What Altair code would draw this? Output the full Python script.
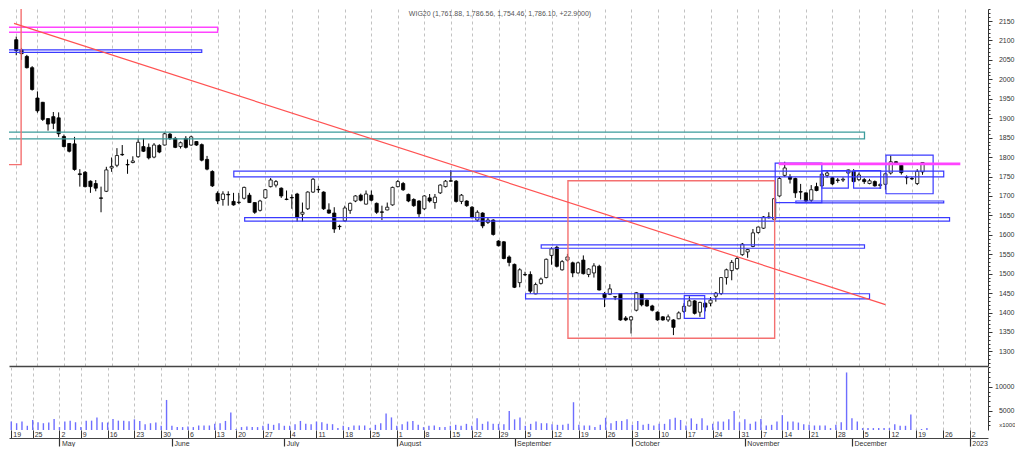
import altair as alt
import pandas as pd

# ---------------- data (trading-day index 0 = 19 Apr 2022 ... 171 = 21 Dec 2022) -------------
open_p = [2102, 2076, 2059, 2030, 1952, 1941, 1899, 1904, 1901, 1853,
          1835, 1834, 1757, 1761, 1738, 1732, 1695, 1712, 1772, 1779,
          1807, 1781, 1786, 1801, 1827, 1825, 1800, 1830, 1831, 1859,
          1848, 1827, 1848, 1831, 1840, 1832, 1794, 1763, 1707, 1691,
          1704, 1686, 1683, 1694, 1702, 1683, 1663, 1695, 1724, 1728,
          1720, 1692, 1696, 1705, 1653, 1667, 1710, 1717, 1710, 1664,
          1656, 1622, 1636, 1663, 1687, 1702, 1679, 1702, 1681, 1659,
          1664, 1677, 1724, 1732, 1704, 1691, 1687, 1667, 1695, 1683,
          1708, 1724, 1739, 1738, 1686, 1687, 1671, 1638, 1656, 1632,
          1638, 1584, 1582, 1543, 1524, 1477, 1498, 1498, 1448, 1475,
          1490, 1547, 1568, 1510, 1535, 1528, 1502, 1535, 1498, 1502,
          1519, 1449, 1447, 1440, 1449, 1386, 1381, 1406, 1449, 1432,
          1417, 1401, 1389, 1381, 1381, 1384, 1403, 1417, 1430, 1401,
          1424, 1424, 1442, 1449, 1490, 1508, 1513, 1549, 1556, 1570,
          1606, 1617, 1644, 1640, 1700, 1753, 1749, 1745, 1711, 1708,
          1689, 1724, 1726, 1753, 1747, 1741, 1741, 1759, 1764, 1742,
          1742, 1732, 1737, 1727, 1730, 1759, 1788, 1779, 1748, 1745,
          1732, 1761.88]
high_p = [2110, 2081, 2063, 2034, 1969, 1942, 1900, 1916, 1915, 1858,
          1836, 1852, 1769, 1764, 1740, 1741, 1724, 1775, 1799, 1823,
          1831, 1794, 1802, 1848, 1848, 1835, 1836, 1833, 1863, 1862,
          1852, 1840, 1854, 1855, 1841, 1835, 1803, 1766, 1712, 1712,
          1712, 1708, 1708, 1724, 1708, 1684, 1690, 1718, 1746, 1741,
          1722, 1714, 1704, 1708, 1683, 1712, 1746, 1726, 1712, 1681,
          1671, 1626, 1675, 1683, 1702, 1706, 1714, 1714, 1683, 1675,
          1683, 1724, 1741, 1736, 1706, 1694, 1689, 1702, 1705, 1705,
          1730, 1741, 1766, 1741, 1705, 1689, 1674, 1663, 1658, 1645,
          1640, 1586, 1584, 1547, 1526, 1514, 1505, 1506, 1477, 1490,
          1539, 1568, 1572, 1535, 1551, 1531, 1531, 1547, 1514, 1527,
          1523, 1453, 1473, 1442, 1450, 1391, 1391, 1453, 1450, 1434,
          1420, 1403, 1391, 1395, 1383, 1403, 1424, 1442, 1432, 1428,
          1426, 1440, 1453, 1491, 1513, 1535, 1543, 1579, 1564, 1615,
          1621, 1648, 1658, 1695, 1749, 1788, 1756, 1747, 1731, 1709,
          1728, 1734, 1759, 1764, 1749, 1746, 1748, 1768, 1769, 1760,
          1746, 1744, 1740, 1733, 1760, 1804, 1790, 1782, 1753, 1749,
          1769, 1786.56]
low_p = [2062, 2050, 2028, 1971, 1914, 1893, 1868, 1872, 1852, 1825,
         1812, 1765, 1724, 1722, 1708, 1712, 1658, 1710, 1762, 1774,
         1803, 1757, 1784, 1798, 1813, 1794, 1797, 1810, 1830, 1844,
         1823, 1822, 1822, 1829, 1829, 1789, 1766, 1723, 1679, 1675,
         1675, 1675, 1679, 1691, 1682, 1654, 1660, 1693, 1722, 1722,
         1695, 1689, 1667, 1634, 1634, 1664, 1708, 1708, 1664, 1654,
         1605, 1613, 1634, 1654, 1684, 1686, 1678, 1686, 1654, 1638,
         1663, 1675, 1722, 1713, 1684, 1672, 1646, 1664, 1683, 1667,
         1705, 1722, 1737, 1683, 1679, 1672, 1642, 1634, 1617, 1628,
         1598, 1570, 1537, 1519, 1463, 1465, 1494, 1449, 1447, 1472,
         1488, 1523, 1516, 1508, 1531, 1491, 1500, 1498, 1491, 1490,
         1457, 1414, 1445, 1432, 1379, 1378, 1346, 1403, 1416, 1415,
         1403, 1379, 1379, 1376, 1342, 1383, 1399, 1416, 1395, 1389,
         1403, 1416, 1428, 1445, 1472, 1483, 1510, 1546, 1541, 1568,
         1603, 1615, 1642, 1638, 1698, 1749, 1732, 1695, 1691, 1685,
         1685, 1712, 1724, 1747, 1728, 1734, 1736, 1756, 1734, 1738,
         1731, 1730, 1724, 1718, 1716, 1755, 1781, 1755, 1730, 1741,
         1728, 1754.46]
close_p = [2074, 2066, 2030, 1974, 1919, 1897, 1885, 1887, 1860, 1827,
           1815, 1768, 1755, 1724, 1724, 1720, 1694, 1767, 1776, 1804,
           1806, 1780, 1790, 1838, 1815, 1798, 1831, 1813, 1860, 1848,
           1825, 1837, 1825, 1852, 1831, 1792, 1769, 1726, 1687, 1705,
           1703, 1677, 1684, 1722, 1683, 1658, 1687, 1716, 1741, 1737,
           1700, 1691, 1695, 1646, 1658, 1710, 1743, 1716, 1667, 1656,
           1615, 1621, 1669, 1681, 1700, 1689, 1705, 1689, 1658, 1658,
           1671, 1722, 1737, 1716, 1687, 1675, 1654, 1700, 1687, 1697,
           1728, 1738, 1738, 1686, 1702, 1675, 1646, 1658, 1623, 1638,
           1601, 1572, 1539, 1529, 1465, 1510, 1497, 1455, 1472, 1486,
           1537, 1564, 1519, 1531, 1543, 1502, 1528, 1500, 1512, 1520,
           1458, 1439, 1461, 1441, 1381, 1381, 1389, 1451, 1420, 1417,
           1406, 1381, 1381, 1389, 1362, 1399, 1416, 1430, 1398, 1426,
           1414, 1432, 1450, 1490, 1510, 1529, 1539, 1576, 1562, 1605,
           1620, 1646, 1646, 1693, 1745, 1772, 1743, 1708, 1710, 1687,
           1716, 1714, 1756, 1759, 1731, 1740, 1743, 1767, 1737, 1754,
           1737, 1739, 1726, 1729, 1757, 1788, 1784, 1760, 1747, 1744,
           1763.2, 1786.10]
volume_k = [2800, 2460, 2800, 1930, 3130, 2660, 2460, 2600, 3330, 1660,
            2800, 2990, 2660, 1660, 2990, 2990, 3660, 2660, 2600, 3330,
            2990, 2990, 2860, 3260, 2930, 2260, 2460, 2600, 1930, 7260,
            1930, 1660, 1660, 1800, 1660, 1990, 1990, 1990, 2330, 2460,
            2930, 4660, 1260, 1660, 1800, 1660, 1660, 1930, 2330, 2130,
            2460, 1930, 1930, 2260, 2930, 2330, 2260, 2800, 2660, 2330,
            2260, 1460, 1930, 1660, 1990, 1990, 1990, 1460, 2130, 2460,
            4460, 3660, 1930, 2260, 2800, 2930, 2130, 1660, 1930, 1990,
            1660, 1660, 1930, 2130, 1930, 2330, 1930, 3460, 2330, 2800,
            2330, 2330, 2260, 5000, 3260, 3660, 1930, 2330, 2800, 2460,
            2460, 2260, 2130, 2130, 2330, 6790, 2130, 1990, 1990, 1660,
            2130, 3590, 2460, 2930, 2930, 3260, 2130, 2930, 2130, 2330,
            1990, 2330, 2330, 3260, 3590, 3130, 1990, 3460, 2330, 3460,
            1990, 2330, 2800, 2800, 3260, 5000, 2660, 3260, 2330, 2800,
            3330, 1990, 2130, 2800, 4130, 2800, 2800, 2600, 2260, 2130,
            1990, 1990, 1990, 1460, 2130, 2660, 12930, 3460, 2800, 1460,
            1460, 1460, 1460, 1460, 1460, 2260, 1930, 1930, 4260, 1130,
            1260, 1460]

# week starts (trading-day index) and their Monday day-of-month labels
week_idx = [0, 4, 9, 13, 18, 23, 28, 33, 38, 42, 47, 52, 57, 62, 67, 72, 77, 82, 86,
            91, 96, 101, 106, 111, 116, 121, 126, 131, 136, 140, 144, 149, 154, 159,
            164, 169, 174, 179]
week_lbl = ["19", "25", "2", "9", "16", "23", "30", "6", "13", "20", "27", "4", "11",
            "18", "25", "1", "8", "15", "22", "29", "5", "12", "19", "26", "3", "10",
            "17", "24", "31", "7", "14", "21", "28", "5", "12", "19", "26", "2"]
month_idx = [9, 30, 51, 72, 94, 116, 137, 157, 179]
month_lbl = ["May", "June", "July", "August", "September", "October", "November",
             "December", "2023"]

price_ticks = list(range(1300, 2151, 50))
price_minor = list(range(1270, 2181, 10))
vol_ticks = [5000, 10000]
vol_minor = list(range(2000, 14001, 1000))

# drawn studies (x = trading-day index, y = price)
trend_i = [-0.42, 164.0]
trend_p = [2144.0, 1420.5]
red_x1 = [-3.0, 104.1]
red_x2 = [0.92, 143.1]
red_y1 = [1780.5, 1334.0]
red_y2 = [2250.0, 1739.0]
blue_x1 = [-3.0, 41.05, 43.1, 99.05, 96.1, 126.05, 143.2, 147.1, 152.0, 158.0, 164.1]
blue_x2 = [35.0, 175.0, 176.1, 160.05, 161.0, 129.9, 152.0, 175.0, 157.0, 163.1, 173.0]
blue_y1 = [2069.2, 1748.9, 1635.3, 1565.4, 1435.3, 1385.2, 1683.0, 1682.3, 1720.0, 1720.0, 1705.7]
blue_y2 = [2075.6, 1763.7, 1644.0, 1574.3, 1448.4, 1443.4, 1784.7, 1687.0, 1765.5, 1765.5, 1805.0]
mag_x1 = [-3.0, 144.0]
mag_x2 = [38.0, 178.0]
mag_y1 = [2121.0, 1780.7]
mag_y2 = [2134.1, 1784.2]
teal_x1 = [-3.0]
teal_x2 = [160.05]
teal_y1 = [1846.9]
teal_y2 = [1864.2]

# ---------------- chart ----------------
FONT = "Liberation Sans"
PW, PH, VH = 979, 357, 63
X_DOM = [-0.423, 182.41]
P_DOM = [1262.5, 2181.0]
V_DOM = [1060, 14060]

n = len(close_p)
df = pd.DataFrame({"i": list(range(n)), "open": open_p, "high": high_p,
                   "low": low_p, "close": close_p, "vol": volume_k})
wk = pd.DataFrame({"i": week_idx})

xs = alt.Scale(domain=X_DOM, nice=False, zero=False)
ys = alt.Scale(domain=P_DOM, nice=False, zero=False)
vs = alt.Scale(domain=V_DOM, nice=False, zero=False)

GRID = "#c2c2c2"
AX = "#333333"


def lbl_expr(idx, lbl):
    arr = ",".join("'%s'" % s for s in lbl)
    vals = ",".join(str(v) for v in idx)
    return "[%s][indexof([%s], datum.value)]" % (arr, vals)


price_x_axis = alt.Axis(orient="bottom", values=week_idx, grid=True, gridDash=[3, 3],
                        gridColor=GRID, gridWidth=1, labels=False, ticks=False,
                        domain=True, domainColor="#444444", domainWidth=1.3, title=None)
price_axis = alt.Axis(orient="right", values=price_ticks, format="d", tickSize=4,
                      labelPadding=22, labelAlign="right", labelBaseline="middle",
                      labelFontSize=7, labelColor=AX, domainColor=AX, tickColor=AX,
                      grid=False, title=None, labelFlush=False)
price_minor_axis = alt.Axis(orient="right", values=price_minor, tickSize=2, labels=False,
                            domain=False, grid=False, title=None, tickColor=AX)

# invisible layer that carries the vertical week grid of the price pane
pgrid = alt.Chart(wk).mark_tick(opacity=0).encode(
    x=alt.X("i:Q", scale=xs, axis=price_x_axis),
)
wick = alt.Chart(df).mark_rule(color="black", strokeWidth=1).encode(
    x=alt.X("i:Q", scale=xs, axis=None),
    y=alt.Y("low:Q", scale=ys, axis=price_axis),
    y2="high:Q",
)
body = alt.Chart(df).mark_bar(size=3.2, stroke="black", strokeWidth=0.8).encode(
    x=alt.X("i:Q", scale=xs, axis=None),
    y=alt.Y("open:Q", scale=ys, axis=None),
    y2="close:Q",
    fill=alt.condition("datum.close >= datum.open", alt.value("white"), alt.value("black")),
)


def boxes(x1, x2, y1, y2, color, sw):
    d = pd.DataFrame({"x1": x1, "x2": x2, "y1": y1, "y2": y2})
    return alt.Chart(d).mark_rect(fillOpacity=0, stroke=color, strokeWidth=sw, clip=True).encode(
        x=alt.X("x1:Q", scale=xs, axis=None), x2="x2:Q",
        y=alt.Y("y1:Q", scale=ys, axis=None), y2="y2:Q",
    )


teal = boxes(teal_x1, teal_x2, teal_y1, teal_y2, "#3c9c9c", 1.3)
blue = boxes(blue_x1, blue_x2, blue_y1, blue_y2, "#3a3aff", 1.2)
mag = boxes(mag_x1, mag_x2, mag_y1, mag_y2, "#ff44ff", 1.4)
red = boxes(red_x1, red_x2, red_y1, red_y2, "#f47070", 1.4)

trend = alt.Chart(pd.DataFrame({"i": trend_i, "p": trend_p})).mark_line(
    color="#ff5252", strokeWidth=1.2, clip=True).encode(
    x=alt.X("i:Q", scale=xs, axis=None),
    y=alt.Y("p:Q", scale=ys, axis=price_minor_axis),
)

title_txt = "WIG20 (%s, %s, %s, %s, %+.4f)" % (
    format(open_p[-1], ",.2f"), format(high_p[-1], ",.2f"), format(low_p[-1], ",.2f"),
    format(close_p[-1], ",.2f"), close_p[-1] - close_p[-2])
title = alt.Chart(pd.DataFrame({"t": [title_txt]})).mark_text(
    fontSize=7, font=FONT, color="#555555", align="center", baseline="middle").encode(
    text="t:N", x=alt.value(491), y=alt.value(5))

price = alt.layer(pgrid, wick, body, teal, blue, mag, red, trend, title).resolve_axis(
    x="independent", y="independent").properties(width=PW, height=PH)

# ---------------- volume pane ----------------
day_axis = alt.Axis(orient="bottom", values=week_idx, labelExpr=lbl_expr(week_idx, week_lbl),
                    grid=True, gridDash=[3, 3], gridColor=GRID, domain=False, ticks=True,
                    tickSize=8, tickColor=AX, labelAlign="left", labelOffset=1.5,
                    labelPadding=-4, labelBaseline="middle", labelFontSize=7,
                    labelColor=AX, labelFlush=False, labelOverlap=False, title=None)
month_axis = alt.Axis(orient="bottom", offset=8, values=month_idx,
                      labelExpr=lbl_expr(month_idx, month_lbl), grid=False, domain=True,
                      domainColor="#444444", domainWidth=1.2, ticks=True, tickSize=8,
                      tickColor=AX, tickWidth=1.2, labelAlign="left", labelOffset=2,
                      labelPadding=-3, labelBaseline="middle", labelFontSize=7,
                      labelColor=AX, labelFlush=False, labelOverlap=False, title=None)
vol_axis = alt.Axis(orient="right", values=vol_ticks, format="d", tickSize=4,
                    labelPadding=22, labelAlign="right", labelBaseline="middle",
                    labelFontSize=7, labelColor=AX, domainColor=AX, tickColor=AX,
                    grid=False, labelFlush=False, title="x1000", titleAngle=0,
                    titleFontSize=6, titleFontWeight="normal", titleColor=AX,
                    titleAlign="right", titleBaseline="middle", titleX=27, titleY=57)
vol_minor_axis = alt.Axis(orient="right", values=vol_minor, tickSize=2, labels=False,
                          domain=False, grid=False, title=None, tickColor=AX)

vbars = alt.Chart(df).mark_rule(color="#6e6eff", strokeWidth=1.4).encode(
    x=alt.X("i:Q", scale=xs, axis=day_axis),
    y=alt.Y("vol:Q", scale=vs, axis=vol_axis),
    y2=alt.datum(V_DOM[0]),
)
vminor = alt.Chart(df).mark_point(opacity=0).encode(
    x=alt.X("i:Q", scale=xs, axis=None),
    y=alt.Y("vol:Q", scale=vs, axis=vol_minor_axis),
)
months = alt.Chart(pd.DataFrame({"i": month_idx})).mark_tick(opacity=0).encode(
    x=alt.X("i:Q", scale=xs, axis=month_axis),
)

volume = alt.layer(vbars, vminor, months).resolve_axis(
    x="independent", y="independent").properties(width=PW, height=VH)

chart = alt.vconcat(price, volume, spacing=0).properties(
    background="white", padding=0
).configure_view(stroke=None).configure_axis(
    labelFont=FONT, titleFont=FONT
)

chart.save("out.html", embed_options={"renderer": "svg", "actions": False})
